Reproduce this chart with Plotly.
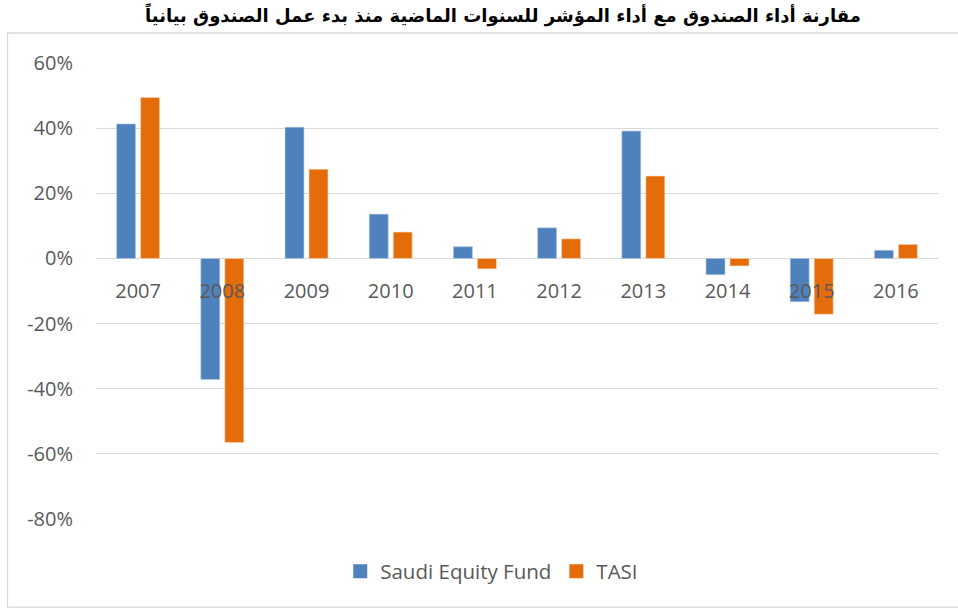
import plotly.graph_objects as go

years = ["2007", "2008", "2009", "2010", "2011", "2012", "2013", "2014", "2015", "2016"]
saudi_fund = [41.3, -37.2, 40.3, 13.6, 3.6, 9.4, 39.1, -5.0, -13.3, 2.5]
tasi = [49.4, -56.5, 27.4, 8.1, -3.2, 6.0, 25.3, -2.3, -17.1, 4.3]
y_ticks = [-80, -60, -40, -20, 0, 20, 40, 60]
y_tick_labels = [f"{v}%" for v in y_ticks]
series_names = ["Saudi Equity Fund", "TASI"]
series_colors = ["#4F81BD", "#E46C0A"]
title_text = "مقارنة أداء الصندوق مع أداء المؤشر للسنوات الماضية منذ بدء عمل الصندوق بيانياً"

font_main = "Open Sans, DejaVu Sans, sans-serif"
txt_color = "#595959"
grid_color = "#D9D9D9"

fig = go.Figure()
fig.add_trace(go.Bar(x=years, y=saudi_fund, name=series_names[0], showlegend=False,
                     marker=dict(color=series_colors[0], line=dict(color="#B8CCE4", width=0.6))))
fig.add_trace(go.Bar(x=years, y=tasi, name=series_names[1], showlegend=False,
                     marker=dict(color=series_colors[1], line=dict(color="#FBD5B5", width=0.6))))
# legend entries with square swatches
for nm, col in zip(series_names, series_colors):
    fig.add_trace(go.Scatter(x=[None], y=[None], mode="markers", name=nm,
                             marker=dict(symbol="square", size=14, color=col)))

fig.update_layout(
    width=958, height=609,
    margin=dict(l=96, r=20, t=63, b=90),
    paper_bgcolor="white", plot_bgcolor="white",
    barmode="group", bargap=0.43, bargroupgap=0.21,
    font=dict(family=font_main, size=20, color=txt_color),
    title=dict(text=title_text, xref="container", x=0.525, xanchor="center", y=0.975, yanchor="middle",
               font=dict(family="DejaVu Sans, sans-serif", size=18, color="black", weight="bold")),
    legend=dict(orientation="h", x=0.47, xanchor="center", y=-0.115, yanchor="middle",
                font=dict(family=font_main, size=20.5, color=txt_color),
                itemwidth=30, traceorder="normal", bgcolor="rgba(0,0,0,0)"),
    showlegend=True,
)

fig.update_yaxes(range=[-80, 60], tickvals=y_ticks, ticktext=y_tick_labels,
                 showgrid=True, gridcolor=grid_color, gridwidth=1.2,
                 zeroline=False, showline=False, ticks="", ticklabelstandoff=22,
                 tickfont=dict(family=font_main, size=20, color=txt_color), domain=[0, 1])
fig.update_xaxes(anchor="free", position=80 / 140, showline=False, ticks="",
                 showgrid=False, zeroline=False, ticklabelstandoff=19,
                 tickfont=dict(family=font_main, size=20, color=txt_color))

# chart frame
fig.add_shape(type="rect", xref="paper", yref="paper",
              x0=(7.5 - 96) / 842, x1=1.05, y0=(456.3 - 544.5) / 456.3, y1=(456.3 + 30) / 456.3,
              line=dict(color=grid_color, width=1.3), fillcolor="rgba(0,0,0,0)", layer="below")

fig.write_html("out.html")
